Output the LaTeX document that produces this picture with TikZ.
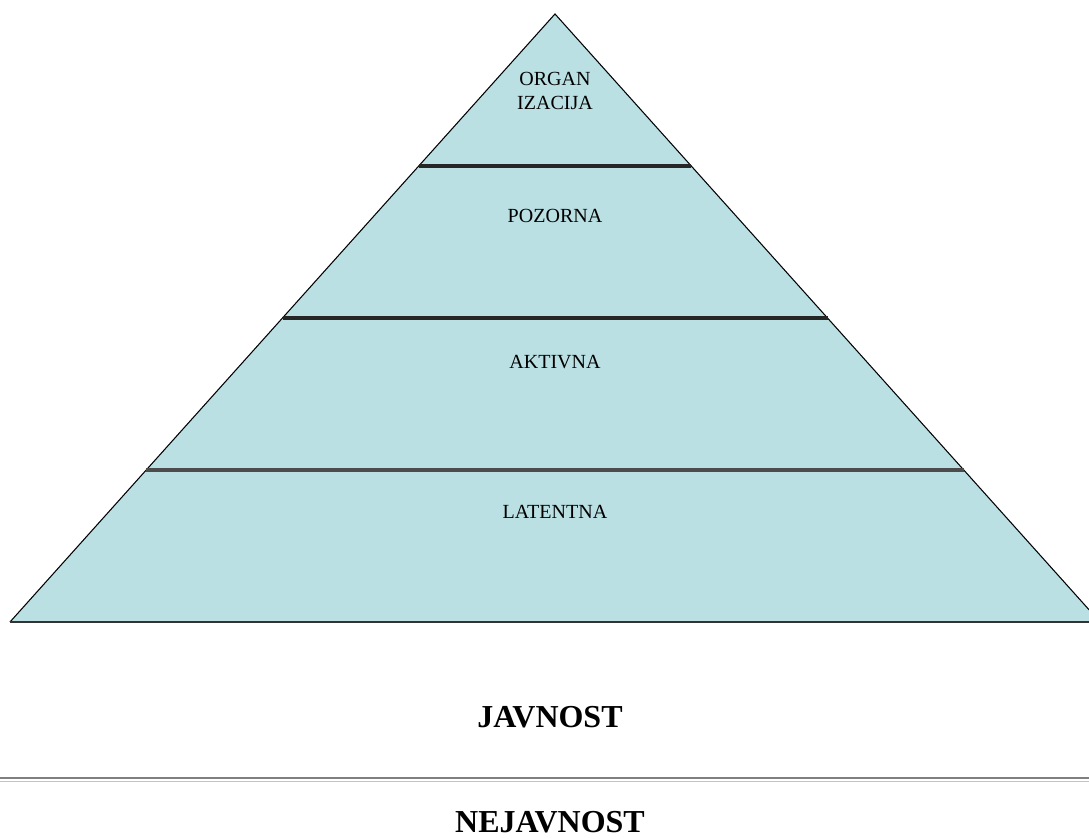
\documentclass[tikz,border=0pt]{standalone}
\usepackage{fontspec}
\setmainfont{Liberation Serif}
\usetikzlibrary{positioning}
\definecolor{pyrfill}{RGB}{186,224,227}
\definecolor{rulelight}{RGB}{196,196,184}

\begin{document}
\begin{tikzpicture}[
  level/.style={font=\fontsize{11.4}{13.7}\selectfont, align=center, inner sep=0pt},
  sphere/.style={font=\fontsize{18.2}{20}\selectfont\bfseries, inner sep=0pt},
  divider/.style={line width=1.8pt, black!85}]
\useasboundingbox (0,0) rectangle (21.78,16.78);
\clip (0,0) rectangle (21.78,16.78);
\coordinate (apex) at (11.1,16.5);
\coordinate (bl) at (0.2,4.34);
\coordinate (br) at (22,4.34);
\fill[pyrfill] (apex) -- (bl) -- (br) -- cycle;
\draw[line width=0.6pt] (bl) -- (apex) -- (br);
\draw[line width=1.4pt, black!80] (bl) -- (br);
\draw[divider] (8.375,13.46) -- (13.825,13.46);
\draw[divider] (5.65,10.42) -- (16.55,10.42);
\draw[divider, black!70] (2.925,7.38) -- (19.275,7.38);
\node[level] (org) at (11.1,14.96) {ORGAN\\IZACIJA};
\node[level] (poz) at (11.1,12.46) {POZORNA};
\node[level] (akt) at (11.1,9.54) {AKTIVNA};
\node[level] (lat) at (11.1,6.54) {LATENTNA};
\node[sphere] (jav) at (11,2.44) {JAVNOST};
\draw[line width=1.3pt, black!50] (0,1.22) -- (21.78,1.22);
\draw[line width=0.7pt, rulelight] (0,1.15) -- (21.78,1.15);
\node[sphere] (nejav) at (11,0.33) {NEJAVNOST};
\end{tikzpicture}
\end{document}
